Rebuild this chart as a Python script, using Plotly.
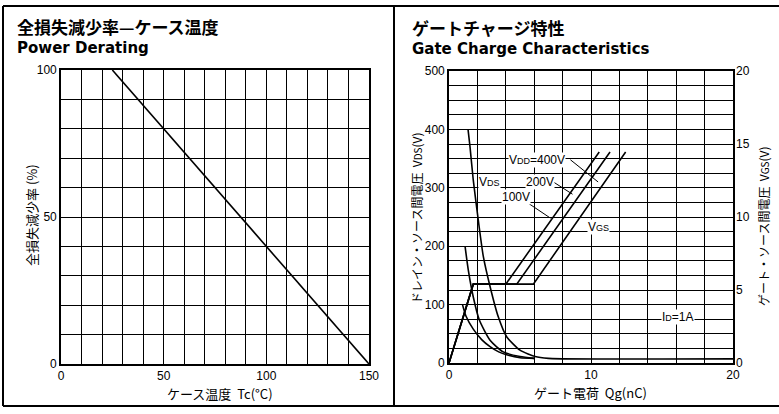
import plotly.graph_objects as go

W, H = 779, 414

# ---------------- data ----------------
# Power derating
tc = [25, 150]
derating = [100, 0]
left_x_ticks = [0, 50, 100, 150]
left_y_ticks = [0, 50, 100]

# Gate charge: VDS curves (Qg nC, VDS V)
qg_vds_400 = [1.34, 1.48, 1.71, 2.06, 2.42, 2.89, 3.47, 4.06, 5.0, 6.06, 7.0, 20.0]
vds_400 = [400, 370, 313, 245, 182, 131, 79, 45, 22, 11, 8, 7]
qg_vds_200 = [1.13, 1.36, 1.71, 2.13, 2.89, 3.82, 5.0, 6.0]
vds_200 = [200, 159, 113, 74, 39, 19, 11, 8]
qg_vds_100 = [0.95, 1.2, 1.71, 2.3, 2.89, 3.5, 4.06, 5.0, 6.0]
vds_100 = [100, 80, 58, 40, 28, 19, 14, 9, 8]

# VGS curves (Qg nC, VGS V)
qg_vgs_100 = [0, 1.71, 4.0, 10.58]
qg_vgs_200 = [0, 1.71, 4.77, 11.34]
qg_vgs_400 = [0, 1.71, 5.94, 12.44]
vgs_pts = [0, 5.4, 5.4, 14.45]

right_x_ticks = [0, 10, 20]
right_yl_ticks = [0, 100, 200, 300, 400, 500]
right_yr_ticks = [0, 5, 10, 15, 20]

# ---------------- helpers ----------------
def px(x):
    return x / W

def py(y):
    return 1 - y / H

TICKFONT = dict(family="Liberation Sans Narrow, Liberation Sans, Arial", size=12, color="black")
JP = "Noto Sans CJK JP"
LINE = dict(color="black", width=1.6)

fig = go.Figure()

fig.add_trace(go.Scatter(x=tc, y=derating, mode="lines", line=LINE,
                         xaxis="x", yaxis="y", showlegend=False, hoverinfo="skip"))

for q, v in [(qg_vds_400, vds_400), (qg_vds_200, vds_200), (qg_vds_100, vds_100)]:
    fig.add_trace(go.Scatter(x=q, y=v, mode="lines", line=dict(shape="spline", smoothing=0.6, **LINE),
                             xaxis="x2", yaxis="y2", showlegend=False, hoverinfo="skip"))
for q in [qg_vgs_100, qg_vgs_200, qg_vgs_400]:
    fig.add_trace(go.Scatter(x=q, y=vgs_pts, mode="lines", line=LINE,
                             xaxis="x2", yaxis="y3", showlegend=False, hoverinfo="skip"))

def lbl(vals, shown):
    return [str(v) if v in shown else "" for v in vals]

lx = list(range(0, 151, 10))
ly = list(range(0, 101, 10))
rx = list(range(0, 21, 2))
ry = list(range(0, 501, 25))

axis_common = dict(showline=True, linecolor="black", linewidth=1.6, mirror=True,
                   showgrid=True, gridcolor="black", gridwidth=1.3, zeroline=False,
                   ticks="", tickfont=TICKFONT, fixedrange=True, automargin=False)

fig.update_layout(
    width=W, height=H, margin=dict(l=0, r=0, t=0, b=0, pad=0),
    paper_bgcolor="white", plot_bgcolor="white",
    xaxis=dict(domain=[px(61), px(369)], range=[0, 150], anchor="y",
               tickvals=lx, ticktext=lbl(lx, left_x_ticks), **axis_common),
    yaxis=dict(domain=[py(364), py(70)], range=[0, 100], anchor="x",
               tickvals=ly, ticktext=lbl(ly, left_y_ticks), **axis_common),
    xaxis2=dict(domain=[px(449), px(733)], range=[0, 20], anchor="y2",
                tickvals=rx, ticktext=lbl(rx, right_x_ticks), **axis_common),
    yaxis2=dict(domain=[py(363), py(71)], range=[0, 500], anchor="x2",
                tickvals=ry, ticktext=lbl(ry, right_yl_ticks), **axis_common),
    yaxis3=dict(overlaying="y2", side="right", range=[0, 20], anchor="x2",
                tickvals=right_yr_ticks, showgrid=False, zeroline=False, showline=False,
                ticks="", tickfont=TICKFONT, fixedrange=True, automargin=False,
                ticklabelstandoff=2),
)

# panel frame
frame = [
    (3, 6, 779, 6), (3, 6, 3, 406), (3, 406, 779, 406), (394, 6, 394, 406),
]
for x0, y0, x1, y1 in frame:
    fig.add_shape(type="line", xref="paper", yref="paper",
                  x0=px(x0), y0=py(y0), x1=px(x1), y1=py(y1),
                  line=dict(color="black", width=2))

def ann(text, x, y, size, bold=False, family=JP, angle=0, xanchor="left"):
    fig.add_annotation(text=("<b>%s</b>" % text) if bold else text,
                       x=px(x), y=py(y), xref="paper", yref="paper",
                       showarrow=False, xanchor=xanchor, yanchor="middle",
                       textangle=angle, font=dict(family=family, size=size, color="black"))

# titles
ann("全損失減少率—ケース温度", 15, 27, 17, bold=True)
ann("Power Derating", 15, 48, 15, bold=True, family="DejaVu Sans, Liberation Sans")
ann("ゲートチャージ特性", 410, 28, 17, bold=True)
ann("Gate Charge Characteristics", 410, 49, 15, bold=True, family="DejaVu Sans, Liberation Sans")

# axis titles
ann("ケース温度  Tc(°C)", 220, 393, 13, xanchor="center")
ann("全損失減少率 (%)", 31, 215, 13, angle=-90, xanchor="center")
ann("ゲート電荷  Qg(nC)", 590, 392, 13, xanchor="center")
ann("ドレイン・ソース間電圧  V<span style='font-size:10px'>DS</span>(V)", 416, 218, 12, angle=-90, xanchor="center")
ann("ゲート・ソース間電圧  V<span style='font-size:10px'>GS</span>(V)", 763, 226, 12, angle=-90, xanchor="center")

# curve labels in data coords of right chart
def dann(text, q, v, size=12):
    fig.add_annotation(text=text, x=q, y=v, xref="x2", yref="y2", showarrow=False,
                       font=dict(family="Liberation Sans, Arial", size=size, color="black"),
                       bgcolor="white", borderpad=0)

dann("V<span style='font-size:9px'>DS</span>", 2.85, 310)
dann("V<span style='font-size:9px'>DD</span>=400V", 6.2, 348)
dann("200V", 6.4, 310)
dann("100V", 4.7, 284)
dann("V<span style='font-size:9px'>GS</span>", 10.55, 233)
dann("I<span style='font-size:9px'>D</span>=1A", 16.1, 79)

leaders = [(8.55, 348, 10.5, 310), (7.35, 310, 8.7, 289), (5.25, 279, 7.15, 248)]
for q0, v0, q1, v1 in leaders:
    fig.add_shape(type="line", xref="x2", yref="y2", x0=q0, y0=v0, x1=q1, y1=v1,
                  line=dict(color="black", width=1))

fig.write_html("out.html", config={"displayModeBar": False},
               post_script="document.body.style.margin='0';document.body.style.overflow='hidden';")
